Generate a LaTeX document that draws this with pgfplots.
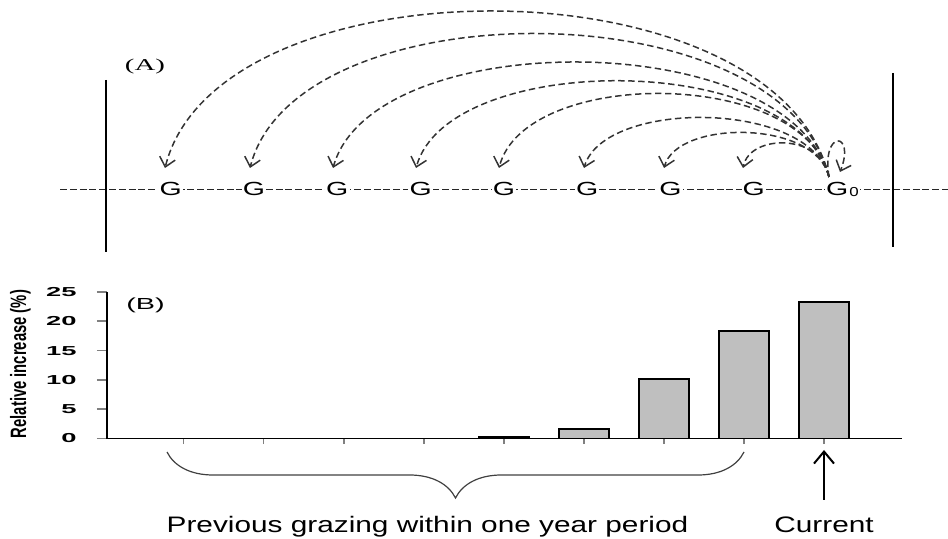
\documentclass[border=0pt]{standalone}
\usepackage{pgfplots}
\pgfplotsset{compat=1.18}
\usepackage{pgfplotstable}
\usepackage{graphicx}
\usepackage{fontspec}
\setmainfont{Liberation Sans}
\newfontfamily\seriffont{Liberation Serif}
\usetikzlibrary{arrows.meta,decorations.pathreplacing}

\pgfplotstableread{
x y
1 0
2 0
3 0
4 0
5 0.2
6 1.6
7 10.1
8 18.3
9 23.3
}\bardata

\newcommand{\Gl}{\scalebox{1.5}[1]{\fontsize{9.5bp}{10bp}\selectfont G}}

\begin{document}
\begin{tikzpicture}
\useasboundingbox (0,0) rectangle (474bp,269.5bp);
% ---------- canvas axis (panel A and annotations), units = pixels ----------
\begin{axis}[at={(0,0)}, anchor=south west, scale only axis,
  width=474bp, height=269.5bp, xmin=0, xmax=948, ymin=0, ymax=539,
  hide axis, clip=false]
  % horizontal dashed line
  \draw[dash pattern=on 3.5bp off 1.4bp, line width=0.6bp, black!85]
     (axis cs:60,349.7) -- (axis cs:948,349.7);
  % vertical bars
  \draw[line width=0.9bp] (axis cs:106,459) -- (axis cs:106,287);
  \draw[line width=0.9bp] (axis cs:893,466) -- (axis cs:893,292);
  % arcs
  \begin{scope}[dash pattern=on 3.2bp off 1.8bp, line width=0.75bp, black!80,
     -{Straight Barb[length=4.5bp,width=8bp]}]
  \draw (axis cs:829,362) .. controls (axis cs:776,581.5) and (axis cs:218,581.5) .. (axis cs:165,371);
  \draw (axis cs:829,362) .. controls (axis cs:783,551.5) and (axis cs:296,551.5) .. (axis cs:250,371);
  \draw (axis cs:829,362) .. controls (axis cs:789,513.5) and (axis cs:373,513.5) .. (axis cs:333,371);
  \draw (axis cs:829,362) .. controls (axis cs:796,488.5) and (axis cs:449,488.5) .. (axis cs:416,371);
  \draw (axis cs:829,362) .. controls (axis cs:803,471.5) and (axis cs:525,471.5) .. (axis cs:499,371);
  \draw (axis cs:829,362) .. controls (axis cs:809,439.5) and (axis cs:604,439.5) .. (axis cs:584,371);
  \draw (axis cs:829,362) .. controls (axis cs:816,419.5) and (axis cs:677,419.5) .. (axis cs:664,371);
  \draw (axis cs:829,362) .. controls (axis cs:822,405.5) and (axis cs:750,405.5) .. (axis cs:743,371);
  \draw (axis cs:829,362) .. controls (axis cs:821,410) and (axis cs:856,408) .. (axis cs:840,367);
  \end{scope}
  % G labels
  \pgfplotsinvokeforeach{0,...,7}{
    \node[fill=white, inner sep=0.6bp] at (axis cs:{170.7+83.3*#1},349.7) {\Gl};
  }
  \node[fill=white, inner sep=0.6bp] at (axis cs:837.1,349.7) {\Gl};
  \node[fill=white, inner sep=0.4bp] at (axis cs:854,347) {\scalebox{1.3}[1]{\fontsize{6.5bp}{7bp}\selectfont 0}};
  % panel letters
  \node at (axis cs:145,472.5) {\scalebox{1.75}[1]{\seriffont\fontsize{8.25bp}{9bp}\selectfont (A)}};
  \node at (axis cs:145.5,233.5) {\scalebox{1.8}[1]{\fontsize{8bp}{9bp}\selectfont (B)}};
  % y label
  \node[rotate=90] at (axis cs:20.5,175) {\scalebox{1}[1.5]{\fontsize{7.4bp}{8bp}\selectfont\bfseries Relative increase (\%)}};
  % brace
  \draw[decorate, decoration={brace, mirror, amplitude=23bp}, line width=0.6bp, black!75]
     (axis cs:167,87) -- (axis cs:744,87);
  % current arrow
  \draw[line width=1bp, -{Straight Barb[length=6bp,width=10bp]}]
     (axis cs:824,39) -- (axis cs:824,89);
  % bottom texts
  \node[anchor=base, inner sep=0pt] at (axis cs:427.5,6.3)
     {\scalebox{1.33}[1]{\fontsize{11.2bp}{13bp}\selectfont Previous grazing within one year period}};
  \node[anchor=base, inner sep=0pt] at (axis cs:824,6.3)
     {\scalebox{1.33}[1]{\fontsize{11.2bp}{13bp}\selectfont Current}};
\end{axis}
% ---------- panel B bar chart ----------
\begin{axis}[at={(53.5bp,50.25bp)}, anchor=south west, scale only axis,
  width=397.5bp, height=73.25bp,
  xmin=0.0445, xmax=9.975, ymin=0, ymax=25,
  axis x line=bottom, axis y line=left,
  axis line style={-, line width=0.75bp},
  xtick={1,...,9}, xticklabels={},
  ytick={0,5,...,25},
  tick align=outside, major tick length=5bp,
  xtick style={line width=0.9bp, /pgfplots/major tick length=2.8bp},
  ytick style={line width=0.9bp},
  yticklabel={\scalebox{2.1}[1]{\fontsize{6.5bp}{7bp}\selectfont\bfseries\pgfmathprintnumber[assume math mode=true]{\tick}}},
  yticklabel style={anchor=east, inner sep=0pt, xshift=-10bp},
  clip=false]
  \addplot[ybar, bar width=25bp, bar shift=0pt, fill=gray!50, draw=black, line width=0.9bp]
    table[x=x, y=y]{\bardata};
\end{axis}
\end{tikzpicture}
\end{document}
